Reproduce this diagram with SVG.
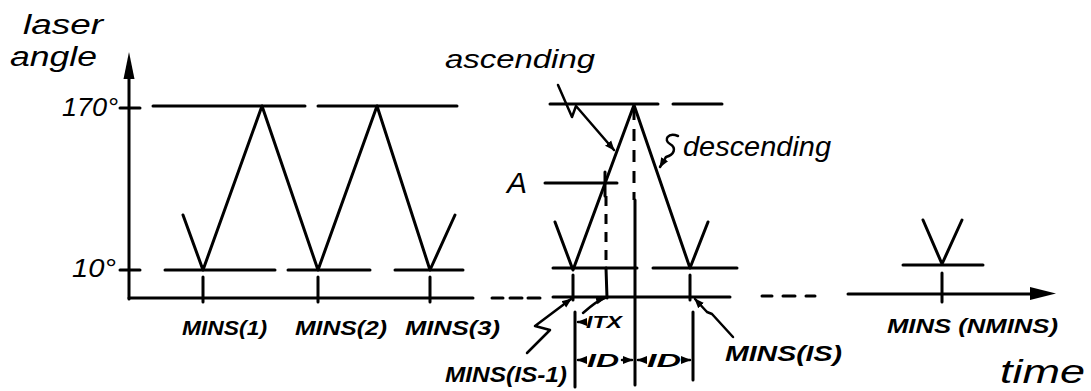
<svg xmlns="http://www.w3.org/2000/svg" width="1091" height="391" viewBox="0 0 1091 391">
<style>
.ln{stroke:#000;stroke-width:3;fill:none;stroke-linecap:round;stroke-linejoin:round}
.th{stroke:#000;stroke-width:2.5;fill:none;stroke-linecap:round;stroke-linejoin:round}
.ds{stroke:#000;stroke-width:3;fill:none;stroke-dasharray:12 9}
.t{font-family:"Liberation Sans",Arial,sans-serif;font-style:italic;fill:#000}
.b{font-weight:bold}
</style>
<defs>
<marker id="ah" viewBox="0 0 10 10" refX="9" refY="5" markerWidth="4" markerHeight="4" orient="auto" markerUnits="strokeWidth">
<path d="M0,1 L10,5 L0,9 Z" fill="#000"/>
</marker>
</defs>
<rect width="1091" height="391" fill="#fff"/>

<g id="axes">
<path class="ln" d="M129,299 L129,74"/>
<path d="M129,52 L123.5,79 L134.5,79 Z" fill="#000"/>
<path class="ln" d="M120,108 L140,108 M120,270 L140,270"/>
<path class="ln" d="M129,298 L473,298"/>
<path class="ln" d="M492,298 L503,298 M510,298 L522,298 M528,298 L540,298"/>
<path class="ln" d="M553,297 L730,297"/>
<path class="ln" d="M762,296 L772,296 M783,296 L795,296 M806,296 L815,296"/>
<path class="ln" d="M848,294 L1035,294"/>
<path d="M1056,293.5 L1030,287 L1030,300 Z" fill="#000"/>
</g>

<g id="levels">
<path class="ln" d="M153,106 L305,106 M318,106 L457,106"/>
<path class="ln" d="M550,104 L658,104 M673,104 L722,104"/>
<path class="ln" d="M165,270 L275,270 M288,270 L370,270 M395,270 L463,270"/>
<path class="ln" d="M553,268 L637,268 M653,268 L737,268"/>
<path class="ln" d="M903,265 L983,265"/>
</g>

<g id="waves">
<path class="ln" d="M183,215 L203,270 L262,106 L318,270 L377,106 L430,270 L455,215"/>
<path class="ln" d="M555,222 L573,270 L634,105 L690,268 L708,222"/>
<path class="ln" d="M923,220 L942,264 L962,220"/>
</g>

<g id="ticks">
<path class="ln" d="M203,277 L203,302 M318,277 L318,302 M430,277 L430,302"/>
<path class="ln" d="M573,275 L573,300 M690,275 L690,300 M942,273 L942,302"/>
<path class="ln" d="M575,312 L575,387 M693,312 L693,380"/>
<path class="ds" d="M634,108 L634,200"/>
<path class="ln" d="M635,200 L635,385"/>
<path class="ln" d="M545,183 L617,183"/>
<path class="ln" d="M605,172 L605,196"/>
<path class="ds" d="M606,196 L606,268" style="stroke-dasharray:10 8"/>
<path class="ln" d="M606,268 L607,298"/>
</g>

<g id="connectors">
<path class="th" d="M558,85 L572,117 L576,106 L614,150" marker-end="url(#ah)"/>
<path class="th" d="M678,136 C668,132 663,140 670,144 C677,148 674,155 666,157 L660,167" marker-end="url(#ah)"/>
<path class="th" d="M583,313 C592,305 598,300 605,298" marker-end="url(#ah)"/>
<path class="th" d="M527,353 L550,330 L535,326 L571,299" marker-end="url(#ah)"/>
<path class="th" d="M733,337 L712,314 L707,312 L695,299" marker-end="url(#ah)"/>
<path class="th" d="M584,322 L578,322" marker-end="url(#ah)"/>
<path class="th" d="M584,360 L578,360" marker-end="url(#ah)"/>
<path class="th" d="M622,360 L632,360" marker-end="url(#ah)"/>
<path class="th" d="M645,360 L638,360" marker-end="url(#ah)"/>
<path class="th" d="M682,360 L690,360" marker-end="url(#ah)"/>
</g>

<g id="labels">
<text class="t" x="23" y="34" font-size="27" textLength="80" lengthAdjust="spacingAndGlyphs">laser</text>
<text class="t" x="10" y="66" font-size="27" textLength="87" lengthAdjust="spacingAndGlyphs">angle</text>
<text class="t" x="62" y="116" font-size="25" textLength="56" lengthAdjust="spacingAndGlyphs">170°</text>
<text class="t" x="72" y="277" font-size="25" textLength="44" lengthAdjust="spacingAndGlyphs">10°</text>
<text class="t" x="445" y="68" font-size="26" textLength="150" lengthAdjust="spacingAndGlyphs">ascending</text>
<text class="t" x="683" y="156" font-size="27" textLength="148" lengthAdjust="spacingAndGlyphs">descending</text>
<text class="t" x="507" y="193" font-size="30">A</text>
<text class="t b" x="182" y="335" font-size="21" textLength="85" lengthAdjust="spacingAndGlyphs">MINS(1)</text>
<text class="t b" x="295" y="335" font-size="21" textLength="92" lengthAdjust="spacingAndGlyphs">MINS(2)</text>
<text class="t b" x="405" y="335" font-size="21" textLength="95" lengthAdjust="spacingAndGlyphs">MINS(3)</text>
<text class="t b" x="586" y="328" font-size="17" textLength="36" lengthAdjust="spacingAndGlyphs">ITX</text>
<text class="t b" x="445" y="382" font-size="22" textLength="122" lengthAdjust="spacingAndGlyphs">MINS(IS-1)</text>
<text class="t b" x="587" y="367" font-size="19" textLength="32" lengthAdjust="spacingAndGlyphs">ID</text>
<text class="t b" x="647" y="367" font-size="19" textLength="34" lengthAdjust="spacingAndGlyphs">ID</text>
<text class="t b" x="725" y="361" font-size="22" textLength="117" lengthAdjust="spacingAndGlyphs">MINS(IS)</text>
<text class="t b" x="887" y="333" font-size="21" textLength="171" lengthAdjust="spacingAndGlyphs">MINS (NMINS)</text>
<text class="t" x="1000" y="383" font-size="34" textLength="85" lengthAdjust="spacingAndGlyphs">time</text>
</g>
</svg>
